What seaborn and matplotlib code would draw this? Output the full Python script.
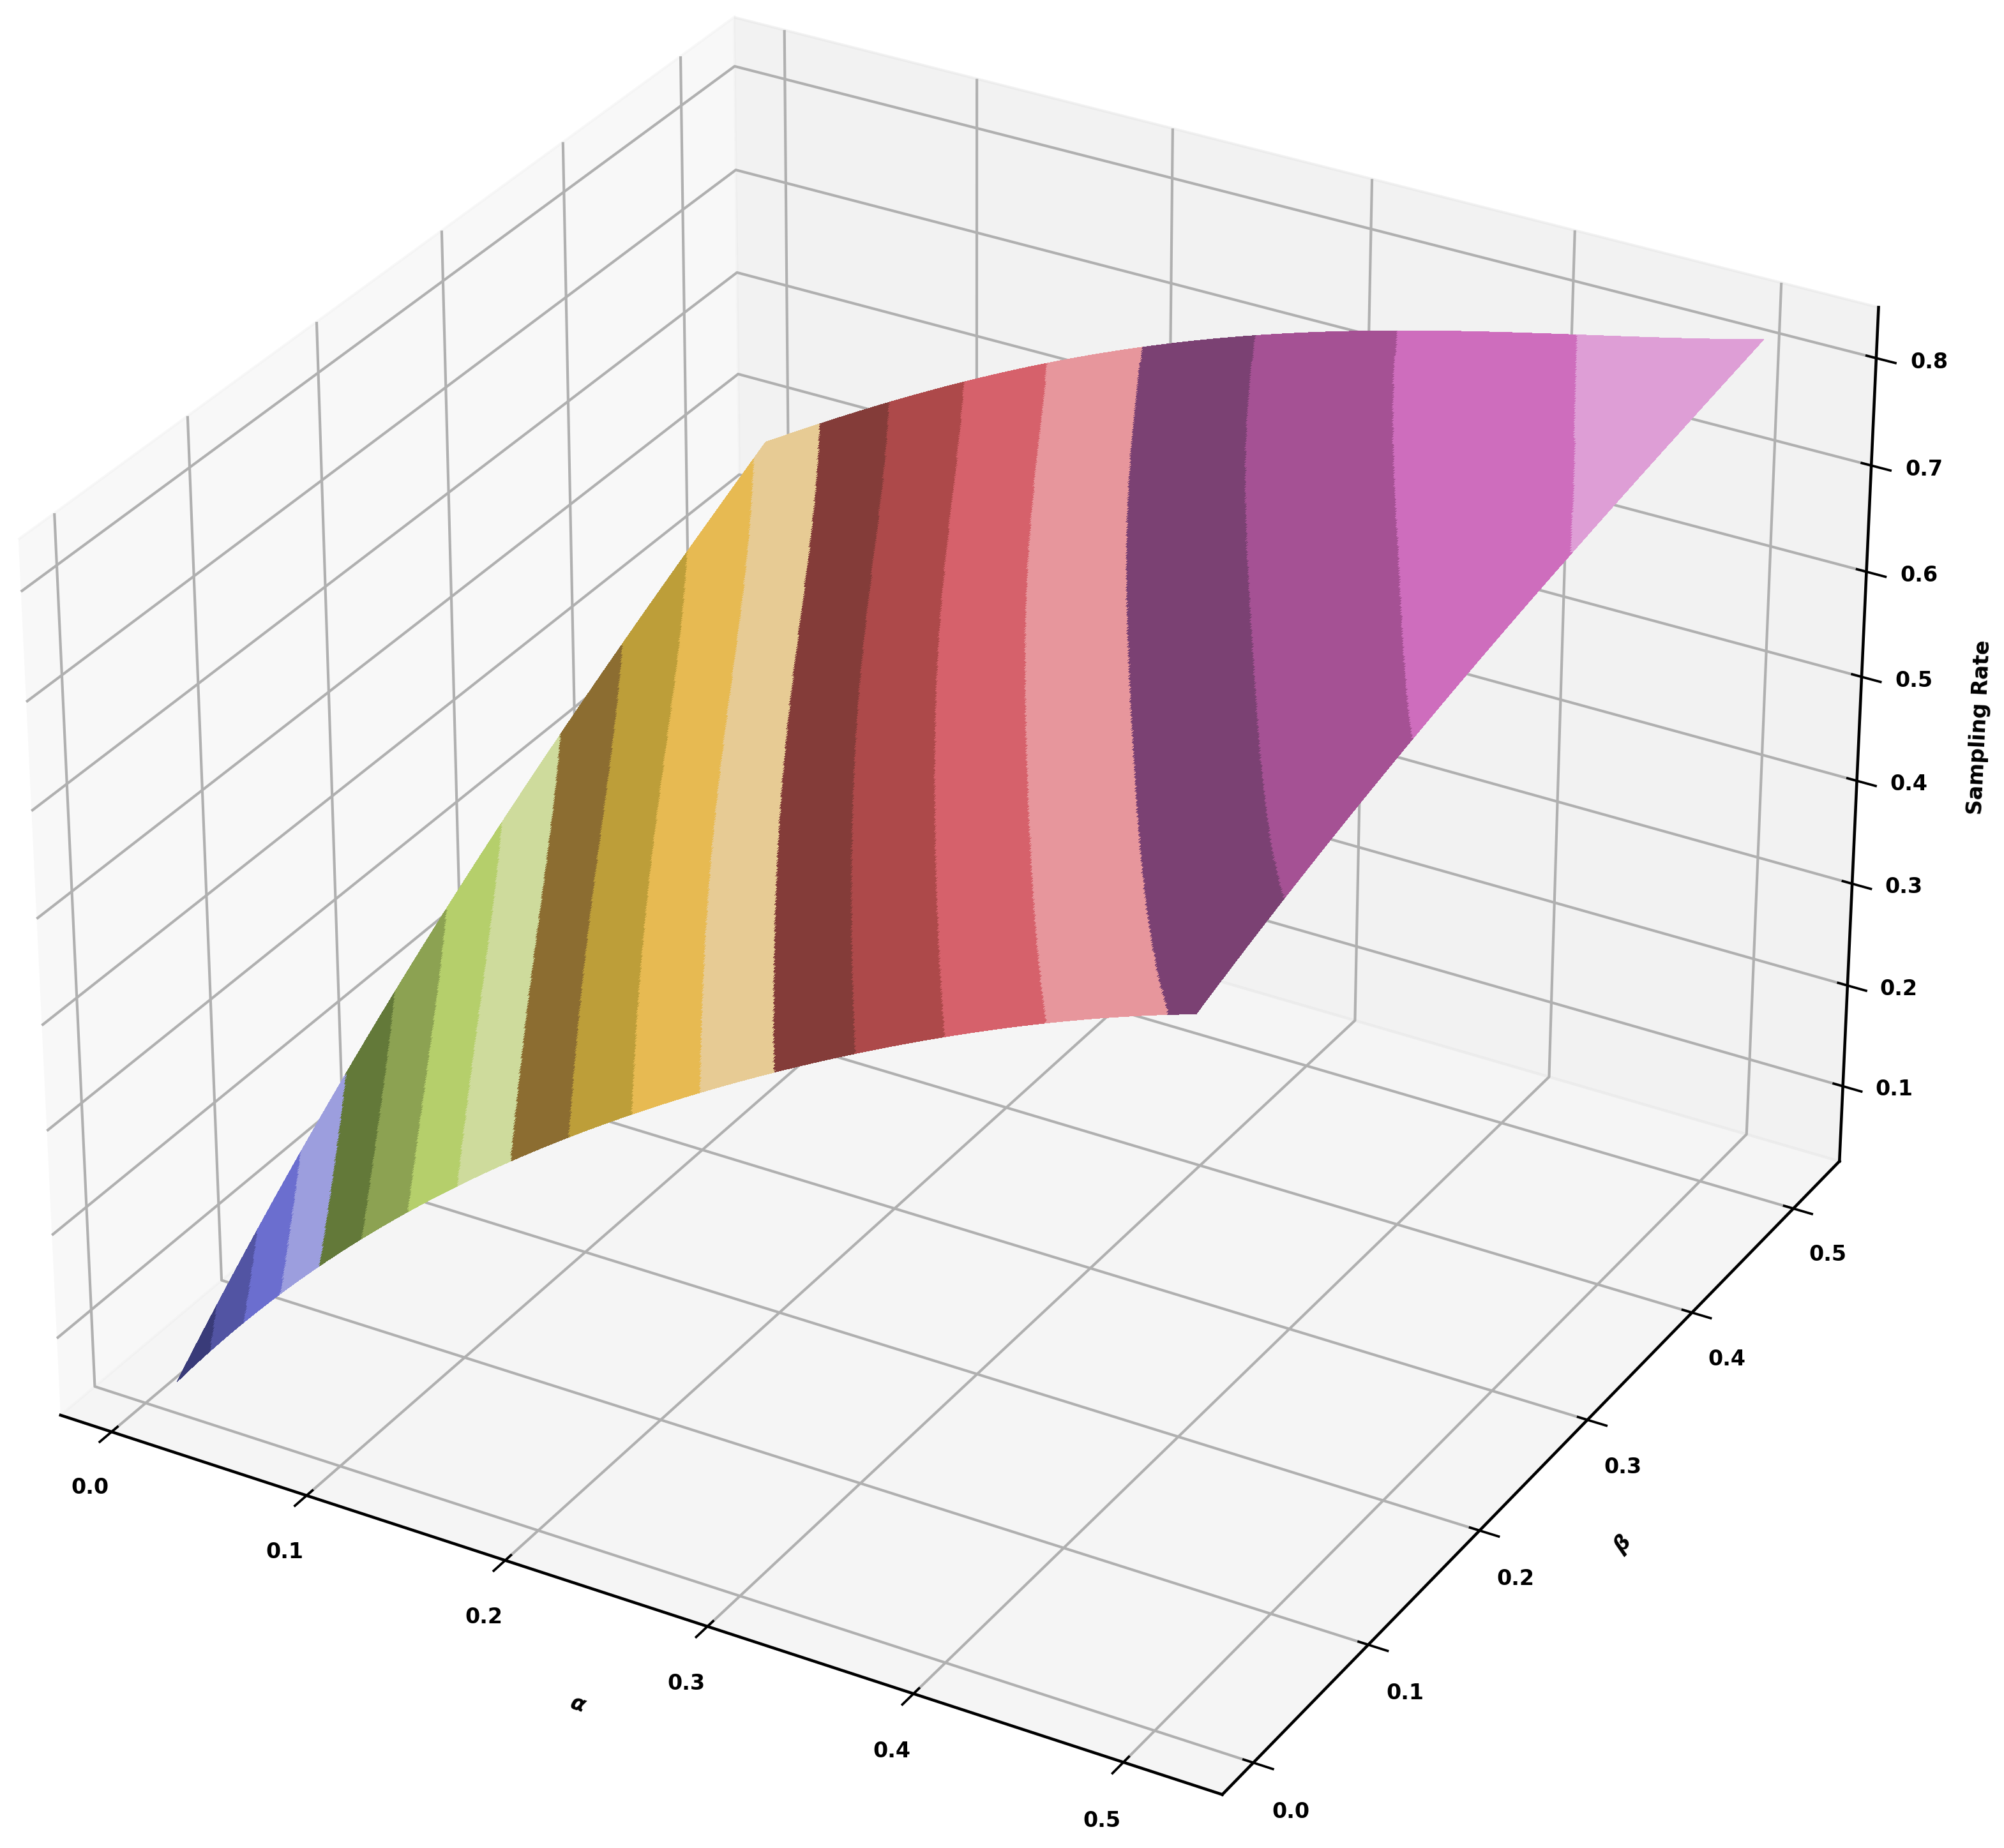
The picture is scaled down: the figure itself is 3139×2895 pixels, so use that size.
import numpy as np
import matplotlib
matplotlib.use("Agg")
import matplotlib.pyplot as plt
import seaborn as sns

alpha_knots = [0.01, 0.11, 0.21, 0.31, 0.41, 0.51]
beta_knots = [0.01, 0.11, 0.21, 0.31, 0.41, 0.51]
# rows: alpha, columns: beta
z_a001 = [0.040, 0.163, 0.255, 0.341, 0.418, 0.482]
z_a011 = [0.242, 0.332, 0.403, 0.473, 0.537, 0.588]
z_a021 = [0.391, 0.468, 0.527, 0.585, 0.636, 0.677]
z_a031 = [0.512, 0.574, 0.625, 0.672, 0.713, 0.737]
z_a041 = [0.606, 0.662, 0.699, 0.733, 0.766, 0.786]
z_a051 = [0.680, 0.724, 0.756, 0.785, 0.810, 0.830]
tick_values = [0.0, 0.1, 0.2, 0.3, 0.4, 0.5]
z_ticks = [0.1, 0.2, 0.3, 0.4, 0.5, 0.6, 0.7, 0.8]

table = np.array([z_a001, z_a011, z_a021, z_a031, z_a041, z_a051])
a_k = np.array(alpha_knots)
b_k = np.array(beta_knots)

# Render mesh: smooth the read table over a fine grid
a_fine = np.linspace(a_k[0], a_k[-1], 500)
b_fine = np.linspace(b_k[0], b_k[-1], 500)
row_fit = np.array([np.polyval(np.polyfit(b_k, r, 3), b_fine) for r in table])
Z = np.array([np.polyval(np.polyfit(a_k, c, 4), a_fine) for c in row_fit.T]).T
A, B = np.meshgrid(a_fine, b_fine, indexing="ij")

plt.rcParams["font.family"] = "DejaVu Sans"
plt.rcParams["font.weight"] = "bold"
plt.rcParams["axes.labelweight"] = "bold"
plt.rcParams["grid.linewidth"] = 1.0
plt.rcParams["axes.linewidth"] = 1.1
for k in ("xtick.major.width", "ytick.major.width"):
    plt.rcParams[k] = 0.9

fig = plt.figure(figsize=(3139 / 300, 2895 / 300), dpi=300)
ax = fig.add_axes([-0.0477, -0.0417, 1.032, 1.119], projection="3d")
cmap = sns.color_palette("tab20b", as_cmap=True)
ax.plot_surface(A, B, Z, cmap=cmap, rstride=1, cstride=1, linewidth=0, antialiased=False)
ax.set_xlabel(r"$\alpha$", fontsize=8, fontweight="bold", labelpad=7)
ax.set_ylabel(r"$\beta$", fontsize=8, fontweight="bold", labelpad=6)
ax.set_zlabel("Sampling Rate", fontsize=8, fontweight="bold", labelpad=7)
ax.set_xticks(tick_values)
ax.set_yticks(tick_values)
ax.set_zticks(z_ticks)
ax.tick_params(labelsize=8)
ax.tick_params(axis="x", pad=4.5)
ax.tick_params(axis="y", pad=4.5)
ax.tick_params(axis="z", pad=4)
fig.savefig("out.png", dpi=300)
